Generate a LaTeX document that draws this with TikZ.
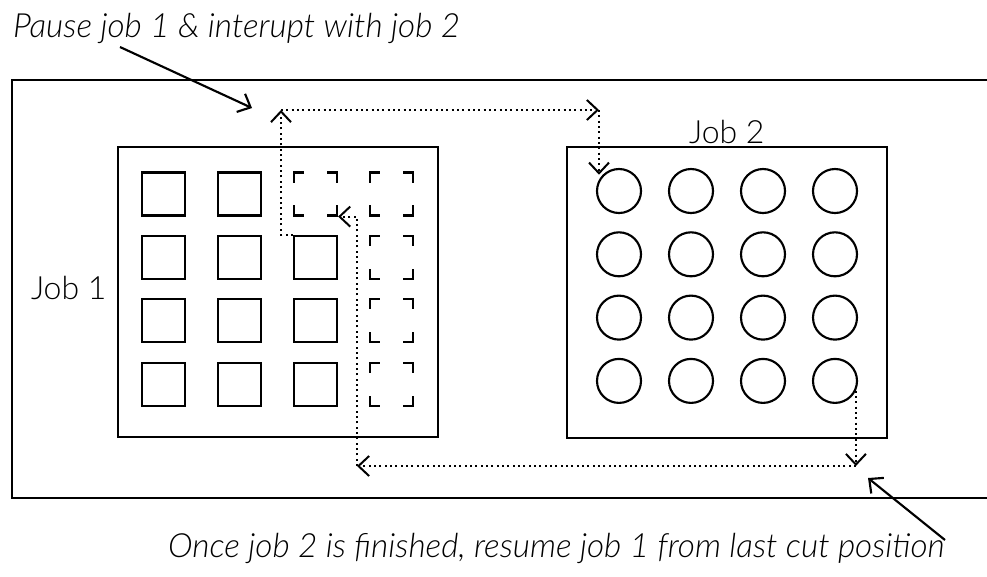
\documentclass[tikz,border=0pt]{standalone}
\usepackage{fontspec}
\setmainfont{Lato}[UprightFont=* Light, ItalicFont=* Light Italic]
\usetikzlibrary{arrows.meta}

\tikzset{every picture/.style={line width=1.6pt}}
\tikzset{
  part/.style={draw, minimum size=32.25pt, inner sep=0pt},
  cutpart/.style={part, line cap=rect, dash pattern=on 13.5pt off 18.75pt, dash phase=6.75pt},
  hole/.style={draw, circle, minimum size=33pt, inner sep=0pt},
  sheet/.style={draw, minimum width=240pt, minimum height=218pt, inner sep=0pt},
  toolpath/.style={line width=1.5pt, dash pattern=on 1.5pt off 2.5pt, -{Straight Barb[length=8pt,width=15pt]}},
  note/.style={-{Straight Barb[length=8pt,width=15pt]}},
  caption/.style={font=\fontsize{25}{30}\selectfont, inner sep=0pt, anchor=base west}
}

\begin{document}
\begin{tikzpicture}[x=0.75pt,y=0.75pt,yscale=-1,xscale=1]
\useasboundingbox (0,0) rectangle (987,576);

%Machine bed (open to the right)
\draw (987,80) -- (12,80) -- (12,498) -- (987,498);

%Sheets
\node[sheet] (job1) at (278,292) {};
\node[sheet] (job2) at (727,292.5) {};

%Square parts, the uncut ones only as corners
\foreach \r in {1,...,4}
  \foreach \c in {1,...,4}{
    \pgfmathtruncatemacro\cut{(\c==4)||(\c==3 && \r==1)}
    \ifnum\cut=1 \def\kind{cutpart}\else\def\kind{part}\fi
    \node[\kind] (s-\r-\c) at ({163.5+76*(\c-1)},{194+63.4*(\r-1)}) {};
  }

%Round parts
\foreach \r in {1,...,4}
  \foreach \c in {1,...,4}
    \node[hole] (c-\r-\c) at ({619+72*(\c-1)},{191+63.3*(\r-1)}) {};

% Text Node
\node[caption, font=\fontsize{24}{29}\selectfont] (joba) at (30,299) {Job 1};
% Text Node
\node[caption, font=\fontsize{24}{29}\selectfont] (jobb) at (688,143) {Job 2};
% Text Node
\node[caption, font=\fontsize{25}{30}\selectfont\itshape] (pause) at (12,37) {Pause job 1 \& interupt with job 2};
% Text Node
\node[caption, font=\fontsize{25}{30}\selectfont\itshape] (resume) at (167,557) {Once job 2 is finished, resume job 1 from last cut position};

%Tool moves
\coordinate (lift) at (281,110);
\coordinate (jump) at (599,110);
\draw[toolpath] (s-2-3.north west) -| (lift);
\draw[toolpath] (lift) -- (jump);
\draw[toolpath] (jump) -- (jump |- c-1-1.north west);

\coordinate (drop) at (857,466);
\coordinate (home) at (357,466);
\draw[toolpath] (c-4-4.-25) -- (c-4-4.-25 |- drop);
\draw[toolpath] (c-4-4.-25 |- drop) -- (home);
\draw[toolpath] (home) |- (s-1-3.south east);

%Pointers
\coordinate (pausetail) at (120,47);
\coordinate (pausetip) at (252,108);
\draw[note] (pausetail) -- (pausetip);
\coordinate (resumetail) at (945,540);
\coordinate (resumetip) at (868,478);
\draw[note] (resumetail) -- (resumetip);

\end{tikzpicture}
\end{document}
